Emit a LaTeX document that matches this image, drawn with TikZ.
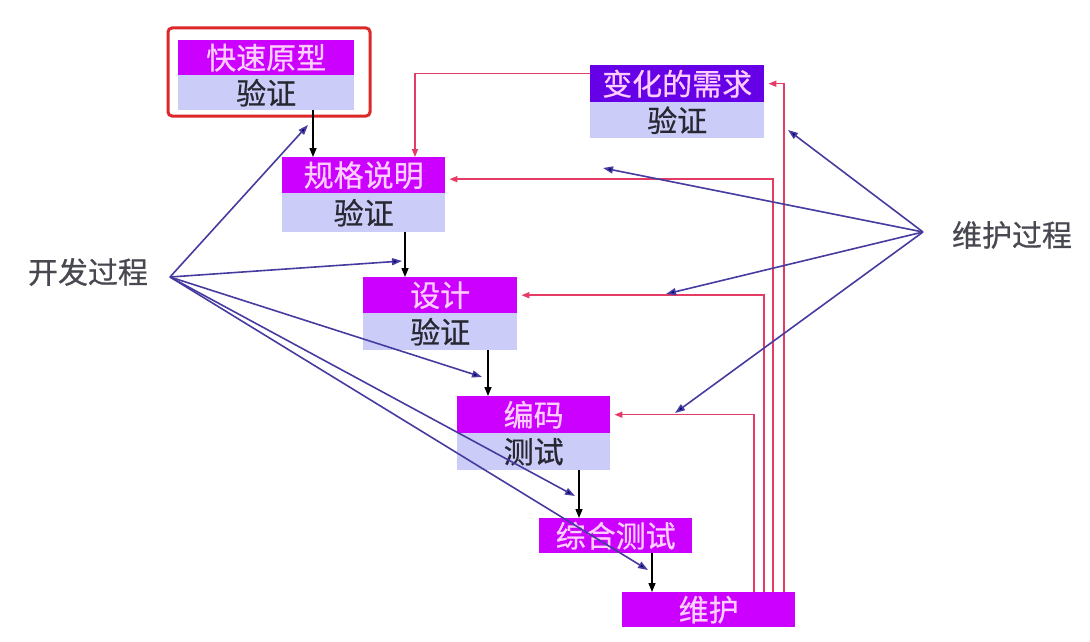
\documentclass[tikz,border=0pt]{standalone}
\usepackage{fontspec}
\newfontfamily\cjk[FakeBold=0.6]{Noto Sans CJK SC}
\usetikzlibrary{arrows.meta}
\definecolor{mag}{RGB}{204,0,255}
\definecolor{chg}{RGB}{102,0,230}
\definecolor{lav}{RGB}{204,204,248}
\definecolor{pinktxt}{RGB}{255,205,255}
\definecolor{darktxt}{RGB}{40,40,50}
\definecolor{bluel}{RGB}{70,60,160}
\definecolor{redl}{RGB}{228,60,100}
\definecolor{framered}{RGB}{220,40,40}
\begin{document}
\begin{tikzpicture}[x=1pt,y=-1pt,
  topbox/.style={rectangle, fill=mag, text=pinktxt, inner sep=0pt, anchor=north west,
    font=\cjk\fontsize{30}{32}\selectfont},
  botbox/.style={rectangle, fill=lav, text=darktxt, inner sep=0pt, anchor=north west,
    font=\cjk\fontsize{30}{32}\selectfont},
  lbl/.style={text=darktxt!85, inner sep=0pt, font=\cjk\fontsize{30}{32}\selectfont},
  flow/.style={draw=black, line width=1.4pt, -{Triangle[length=9pt,width=7pt]}},
  bluearr/.style={draw=bluel, line width=1.6pt, -{Triangle[length=10pt,width=7pt,fill=blue!45!black]}},
  redarr/.style={draw=redl, line width=1.5pt, -{Triangle[length=8pt,width=6pt]}}
]
\useasboundingbox (0,0) rectangle (1090,642);

% boxes
\node[topbox, minimum width=176pt, minimum height=35pt] (proto) at (178,40) {快速原型};
\node[botbox, minimum width=176pt, minimum height=35pt] (protov) at (178,75) {验证};
\node[draw=framered, line width=3pt, rounded corners=4pt, minimum width=202pt, minimum height=88pt, inner sep=0pt] (frame) at (269,72) {};

\node[topbox, fill=chg, minimum width=174pt, minimum height=37pt] (change) at (590,65) {变化的需求};
\node[botbox, minimum width=174pt, minimum height=36pt] (changev) at (590,102) {验证};

\node[topbox, minimum width=163pt, minimum height=36pt] (spec) at (282,157) {规格说明};
\node[botbox, minimum width=163pt, minimum height=39pt] (specv) at (282,193) {验证};

\node[topbox, minimum width=154pt, minimum height=36pt] (design) at (363,277) {设计};
\node[botbox, minimum width=154pt, minimum height=37pt] (designv) at (363,313) {验证};

\node[topbox, minimum width=153pt, minimum height=37pt] (code) at (457,396) {编码};
\node[botbox, minimum width=153pt, minimum height=37pt] (codev) at (457,433) {测试};

\node[topbox, minimum width=153pt, minimum height=35pt] (integ) at (539,518) {综合测试};
\node[topbox, minimum width=173pt, minimum height=35pt] (maint) at (622,592) {维护};

% labels
\node[lbl] (dev) at (88,272) {开发过程};
\node[lbl] (mnt) at (1012,235) {维护过程};
\coordinate (devhub) at (170,277);
\coordinate (mnthub) at (923,232);

% black flow arrows
\draw[flow] (protov.south -| 313,0) -- (spec.north -| 313,0);
\draw[flow] (specv.south -| 405,0) -- (design.north -| 405,0);
\draw[flow] (designv.south -| 488,0) -- (code.north -| 488,0);
\draw[flow] (codev.south -| 579,0) -- (integ.north -| 579,0);
\draw[flow] (integ.south -| 652,0) -- (maint.north -| 652,0);

% red feedback arrows
\draw[redarr] (maint.north -| 754,0) |- ([xshift=4pt]code.east);
\draw[redarr] (maint.north -| 764,0) |- ([xshift=4pt]design.east);
\draw[redarr] (maint.north -| 773,0) |- ([xshift=4pt,yshift=-4pt]spec.east);
\draw[redarr] (maint.north -| 784,0) |- ([xshift=4pt]change.east);
\draw[redarr] ([yshift=10pt]change.west) -| (spec.north -| 415,0);

% blue development arrows
\draw[bluearr] (devhub) -- (308,125);
\draw[bluearr] (devhub) -- (402,261);
\draw[bluearr] (devhub) -- (482,377);
\draw[bluearr] (devhub) -- (575,496);
\draw[bluearr] (devhub) -- (648,570);

% blue maintenance arrows
\draw[bluearr] (mnthub) -- (788,130);
\draw[bluearr] (mnthub) -- (603,168);
\draw[bluearr] (mnthub) -- (666,294);
\draw[bluearr] (mnthub) -- (675,413);
\end{tikzpicture}
\end{document}
